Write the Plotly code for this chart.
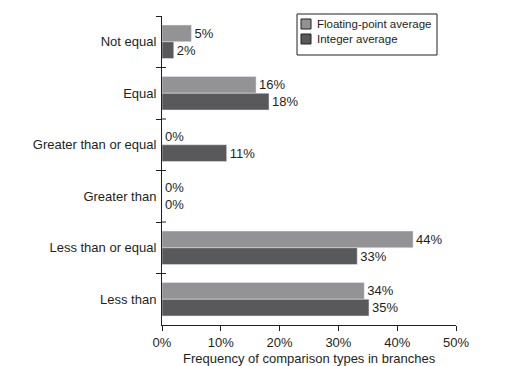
import plotly.graph_objects as go

categories = ["Not equal", "Equal", "Greater than or equal", "Greater than",
              "Less than or equal", "Less than"]
float_avg = [5, 16, 0, 0, 42.7, 34.4]
int_avg = [2, 18.2, 11, 0, 33.2, 35.2]
float_labels = ["5%", "16%", "0%", "0%", "44%", "34%"]
int_labels = ["2%", "18%", "11%", "0%", "33%", "35%"]
series_names = ["Floating-point average", "Integer average"]
x_ticks = [0, 10, 20, 30, 40, 50]
x_tick_labels = ["0%", "10%", "20%", "30%", "40%", "50%"]
x_title = "Frequency of comparison types in branches"

font = "Liberation Sans, Arial, sans-serif"
colors = ["#939396", "#59585a"]
ink = "#231f20"

OFF = 8  # page body margin
W, H = 528 - OFF, 366 - OFF
L, R, T, B = 162 - OFF, 72, 16 - OFF, 41
pw, ph = W - L - R, H - T - B

fig = go.Figure()
for vals, labels, name, col in [(float_avg, float_labels, series_names[0], colors[0]),
                                (int_avg, int_labels, series_names[1], colors[1])]:
    fig.add_trace(go.Bar(y=categories, x=vals, orientation="h", name=name,
                         marker=dict(color=col), text=labels, textposition="outside",
                         textfont=dict(size=13, color=ink), cliponaxis=False,
                         showlegend=False))

# custom legend (paper coordinates from screen pixel positions)
def px(x):
    return (x - OFF - L) / pw

def py(y):
    return 1 - (y - OFF - T) / ph

shapes = [dict(type="rect", xref="paper", yref="paper", x0=px(297), x1=px(437),
               y0=py(55), y1=py(14), line=dict(color=ink, width=1), fillcolor="white")]
annotations = []
for i, (name, col) in enumerate(zip(series_names, colors)):
    yc = 24 + i * 15
    shapes.append(dict(type="rect", xref="paper", yref="paper", x0=px(301), x1=px(311),
                       y0=py(yc + 5), y1=py(yc - 5), line=dict(color=ink, width=1),
                       fillcolor=col))
    annotations.append(dict(xref="paper", yref="paper", x=px(315), y=py(yc), text=name,
                            showarrow=False, xanchor="left", yanchor="middle",
                            font=dict(size=11.5, color=ink, family=font)))

# inner half of the category-boundary tick marks (ticks cross the axis)
for k in range(1, len(categories)):
    shapes.append(dict(type="line", xref="paper", yref="y", x0=0, x1=px(166),
                       y0=k - 0.5, y1=k - 0.5, line=dict(color=ink, width=1)))

annotations.append(dict(xref="paper", yref="paper", x=px(309), y=py(358), text=x_title,
                        showarrow=False, xanchor="center", yanchor="middle",
                        font=dict(size=13, color=ink, family=font)))

fig.update_layout(
    width=W, height=H,
    margin=dict(l=L, r=R, t=T, b=B, autoexpand=False),
    barmode="group", bargap=0.35, bargroupgap=0,
    paper_bgcolor="white", plot_bgcolor="white",
    font=dict(family=font, size=13, color=ink),
    showlegend=False,
    shapes=shapes, annotations=annotations,
    xaxis=dict(range=[0, 50], tickvals=x_ticks, ticktext=x_tick_labels, automargin=False,
               showgrid=False, zeroline=False, showline=True, linecolor=ink, linewidth=1,
               ticks="outside", ticklen=5, tickcolor=ink, tickfont=dict(size=13),
               ticklabelstandoff=0),
    yaxis=dict(autorange="reversed", showgrid=False, zeroline=False, showline=True,
               automargin=False, tickfont=dict(size=13), ticklabelstandoff=2,
               linecolor=ink, linewidth=1, ticks="outside", ticklen=5,
               tickcolor=ink, tickson="boundaries"),
)

fig.write_html("out.html")
